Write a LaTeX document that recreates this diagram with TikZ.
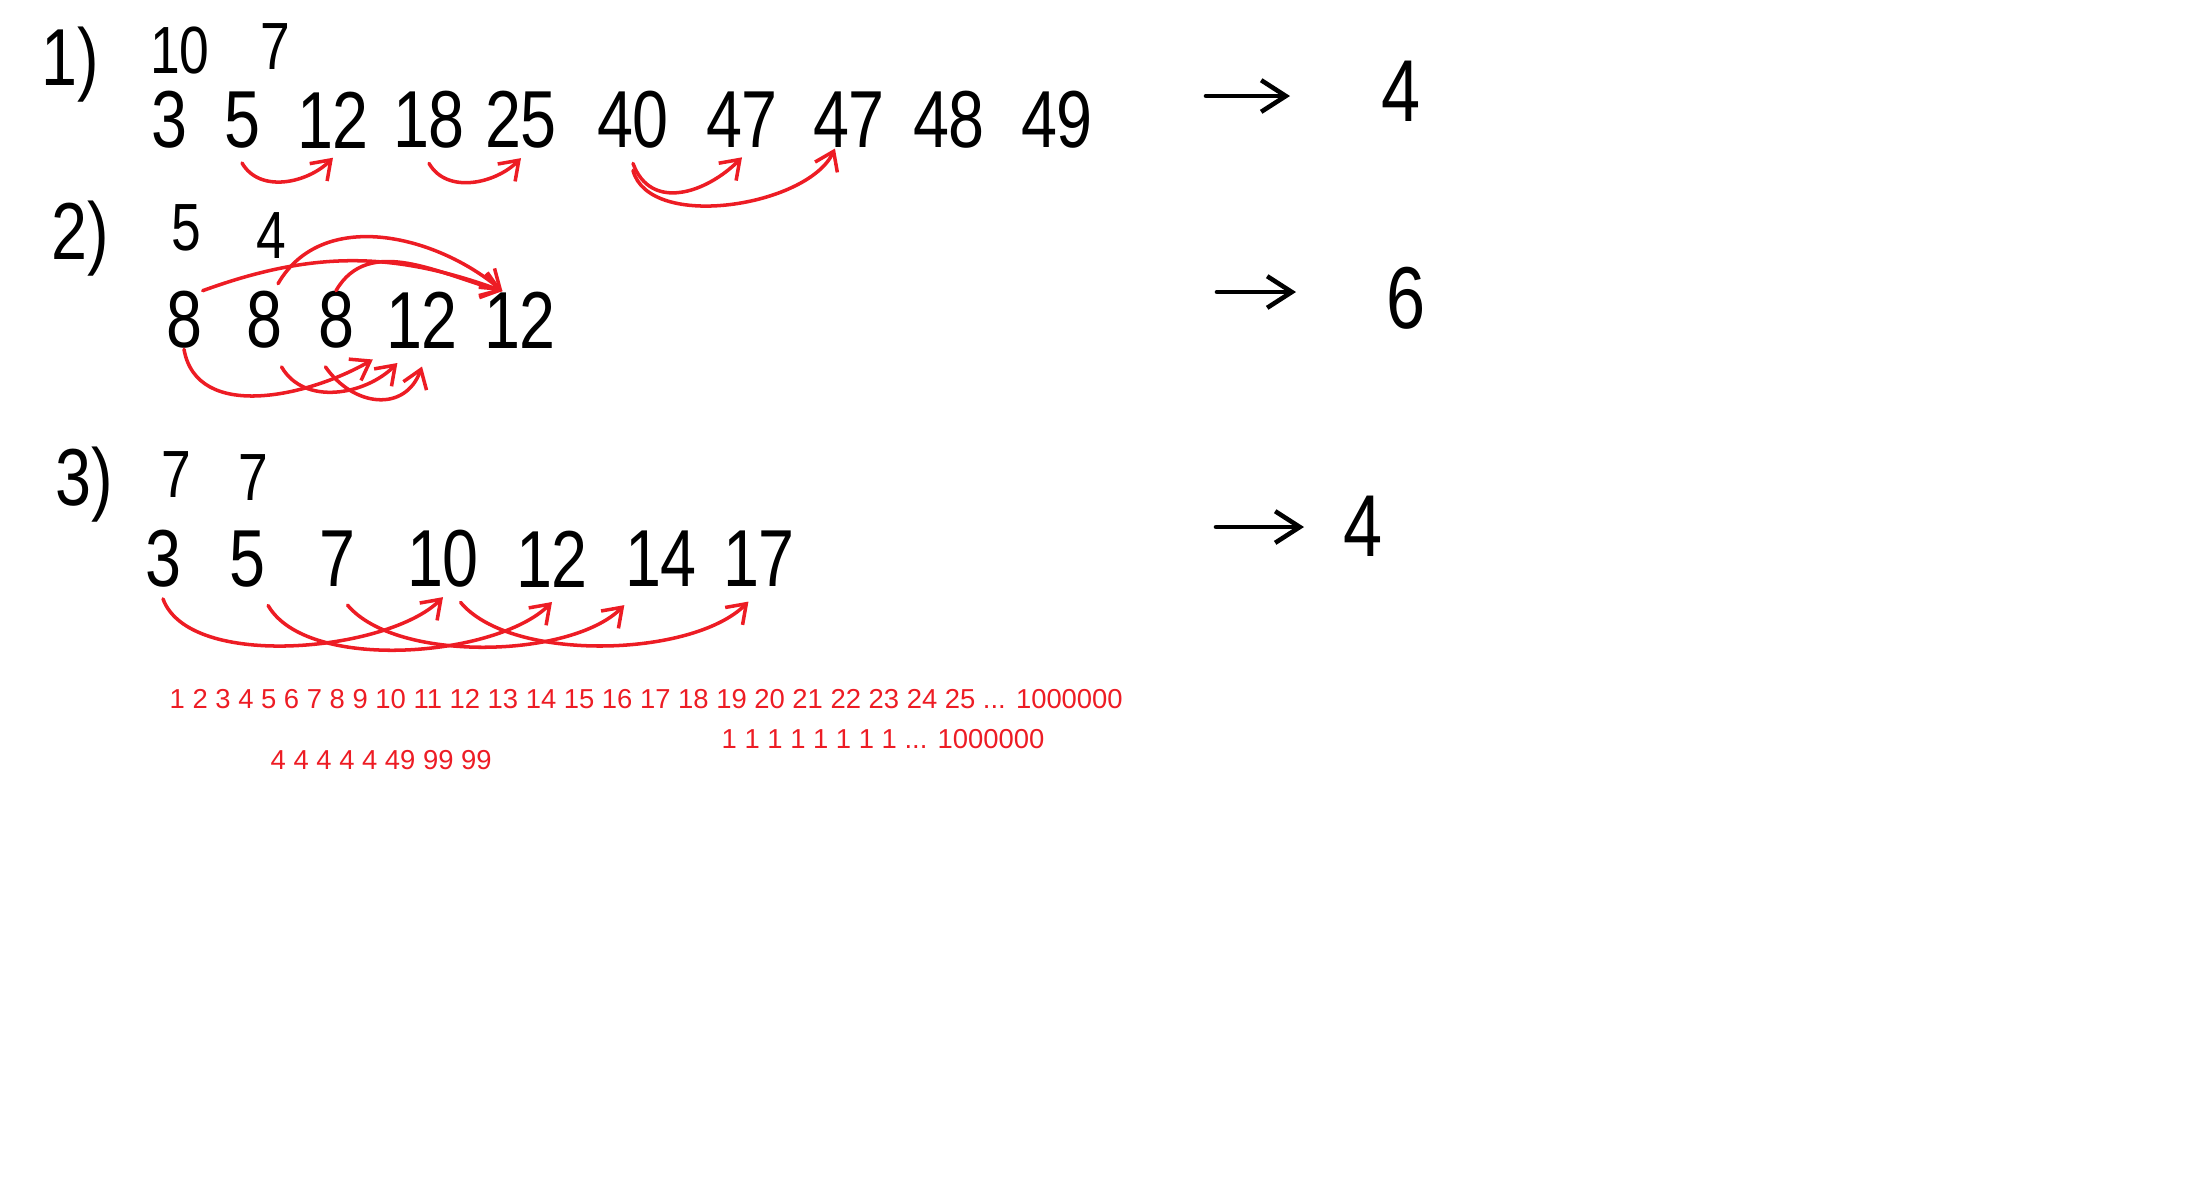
\documentclass[tikz,border=0pt]{standalone}
\usepackage{fontspec}
\newfontfamily\handfont{Liberation Sans}[FakeStretch=0.8]
\newfontfamily\printfont{Liberation Sans}
\usetikzlibrary{arrows.meta}
\definecolor{paintred}{RGB}{237,28,36}
\tikzset{
  hand/.style={font=\handfont\fontsize{23}{23}\selectfont, inner sep=0pt},
  query/.style={font=\handfont\fontsize{19}{19}\selectfont, inner sep=0pt},
  answer/.style={font=\handfont\fontsize{25}{25}\selectfont, inner sep=0pt},
  printed/.style={font=\printfont\fontsize{7.8}{9}\selectfont, text=paintred, inner sep=0pt, anchor=west},
  jump/.style={draw=paintred, line width=1pt, line cap=round, -{Straight Barb[length=5pt,width=7pt]}},
  gives/.style={line width=1.3pt, line cap=round, -{Straight Barb[length=7pt,width=9pt]}}
}
\begin{document}
\begin{tikzpicture}
\useasboundingbox (0,0) rectangle (22.04,-11.82);
% case 1
\path node[hand] (L1) at (0.70,-0.65) {1)}
node[query] (N1) at (1.80,-0.50) {10}
node[query] (K1) at (2.75,-0.47) {7}
node[hand] (A1) at (1.69,-1.20) {3}
node[hand] (B1) at (2.42,-1.20) {5}
node[hand] (C1) at (3.33,-1.20) {12}
node[hand] (D1) at (4.29,-1.20) {18}
node[hand] (E1) at (5.21,-1.20) {25}
node[hand] (F1) at (6.33,-1.20) {40}
node[hand] (G1) at (7.42,-1.20) {47}
node[hand] (H1) at (8.49,-1.20) {47}
node[hand] (I1) at (9.49,-1.20) {48}
node[hand] (J1) at (10.57,-1.20) {49}
node[answer] (R1) at (14.01,-0.91) {4}
;
\coordinate (T1) at (12.06,-0.96);
\coordinate (U1) at (12.90,-0.96);
\draw[gives] (T1) -- (U1);
\draw[jump] ([yshift=-4pt]B1.south) to[out=-60,in=-135] ([yshift=-2.5pt]C1.south);
\draw[jump] ([yshift=-4pt]D1.south) to[out=-60,in=-135] ([yshift=-2.5pt]E1.south);
\draw[jump] ([yshift=-4pt]F1.south) to[out=-70,in=-135,looseness=1.2] ([yshift=-2.5pt]G1.south);
\draw[jump] ([yshift=-6pt]F1.south) to[out=-75,in=-115,looseness=0.8] ([xshift=-4pt]H1.south);
% case 2
\path node[hand] (L2) at (0.80,-2.39) {2)}
node[query] (N2) at (1.86,-2.28) {5}
node[query] (K2) at (2.71,-2.36) {4}
node[hand] (A2) at (1.84,-3.20) {8}
node[hand] (B2) at (2.64,-3.20) {8}
node[hand] (C2) at (3.36,-3.20) {8}
node[hand] (D2) at (4.22,-3.20) {12}
node[hand] (E2) at (5.20,-3.20) {12}
node[answer] (R2) at (14.06,-2.98) {6}
;
\coordinate (T2) at (12.17,-2.92);
\coordinate (U2) at (12.96,-2.92);
\draw[gives] (T2) -- (U2);
\draw[jump] (A2.north east) to[out=20,in=160] ([xshift=-5pt]E2.north);
\draw[jump] ([xshift=4pt,yshift=2pt]B2.north) to[out=60,in=140] ([xshift=-5pt]E2.north);
\draw[jump] (C2.north) to[out=60,in=165] ([xshift=-5pt]E2.north);
\draw[jump] (A2.south) to[out=-80,in=-150] ([xshift=-14pt,yshift=-3pt]D2.south);
\draw[jump] ([xshift=5pt,yshift=-5pt]B2.south) to[out=-60,in=-135] ([xshift=-7pt,yshift=-4pt]D2.south);
\draw[jump] ([xshift=-3pt,yshift=-5pt]C2.south) to[out=-55,in=-110,looseness=1.3] ([yshift=-5pt]D2.south);
% case 3
\path node[hand] (L3) at (0.84,-4.85) {3)}
node[query] (N3) at (1.76,-4.75) {7}
node[query] (K3) at (2.53,-4.78) {7}
node[hand] (A3) at (1.63,-5.59) {3}
node[hand] (B3) at (2.47,-5.59) {5}
node[hand] (C3) at (3.37,-5.59) {7}
node[hand] (D3) at (4.43,-5.59) {10}
node[hand] (E3) at (5.52,-5.59) {12}
node[hand] (F3) at (6.61,-5.59) {14}
node[hand] (G3) at (7.59,-5.59) {17}
node[answer] (R3) at (13.63,-5.26) {4}
;
\coordinate (T3) at (12.16,-5.27);
\coordinate (U3) at (13.04,-5.27);
\draw[gives] (T3) -- (U3);
\draw[jump] ([yshift=-3pt]A3.south) to[out=-70,in=-135,looseness=0.7] ([yshift=-2.5pt]D3.south);
\draw[jump] ([xshift=6pt,yshift=-5pt]B3.south) to[out=-60,in=-135,looseness=0.7] ([yshift=-4pt]E3.south);
\draw[jump] ([xshift=3pt,yshift=-5pt]C3.south) to[out=-50,in=-135,looseness=0.7] ([yshift=-5pt]F3.south west);
\draw[jump] ([xshift=5pt,yshift=-4pt]D3.south) to[out=-50,in=-135,looseness=0.7] ([xshift=-3pt,yshift=-4pt]G3.south);
% typed notes
\path node[printed] (M1) at (1.69,-6.99) {1 2 3 4 5 6 7 8 9 10 11 12 13 14 15 16 17 18 19 20 21 22 23 24 25 ... 1000000}
node[printed] (M2) at (7.21,-7.39) {1 1 1 1 1 1 1 1 ... 1000000}
node[printed] (M3) at (2.70,-7.60) {4 4 4 4 4 49 99 99}
;
\end{tikzpicture}
\end{document}
